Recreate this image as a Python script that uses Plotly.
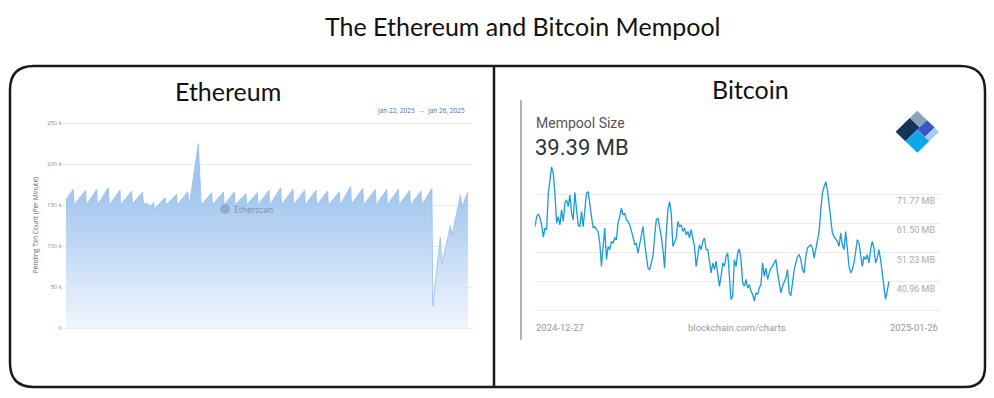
import plotly.graph_objects as go
import pandas as pd

W, H = 994, 398

# ---------------- Ethereum pending transactions (hours since Jan 22, 2025 ; thousands) ----------------
eth_hours = [0, 1.75, 1.9, 4.7, 4.85, 7.33, 7.5, 10.12, 10.3, 12.9, 13.05, 15.7, 15.85, 18.3, 18.45,
             19.0, 19.7, 20.1, 20.6, 20.9, 21.1, 23.7, 23.85, 26.4, 26.55, 29.1, 29.3, 29.6, 31.6,
             32.0, 32.3, 34.8, 34.95, 37.6, 37.75, 40.2, 40.35, 43.0, 43.15, 45.7, 45.85, 48.5, 48.65,
             51.3, 51.45, 54.2, 54.35, 57.0, 57.15, 59.7, 59.85, 62.5, 62.65, 65.3, 65.45, 68.0, 68.15,
             70.9, 71.05, 73.9, 74.05, 76.6, 76.75, 79.4, 79.55, 82.1, 82.25, 84.8, 84.95, 87.4, 87.6,
             89.4, 89.8, 91.8, 92.2, 94.2, 94.6, 96.0]
eth_pending_k = [157, 169, 150, 168, 150, 169, 150, 171, 150, 168, 150, 167, 151, 166, 152,
                 152, 151, 148, 151, 153, 145, 159, 150, 163, 150, 166, 153, 155, 225,
                 168, 150, 165, 150, 166, 150, 166, 150, 164, 150, 165, 150, 168, 150,
                 171, 150, 169, 150, 168, 150, 168, 150, 167, 150, 166, 150, 173, 151,
                 170, 150, 169, 150, 169, 150, 169, 150, 168, 150, 167, 150, 170, 27,
                 111, 79, 125, 113, 162, 148, 166]
eth_tick_vals = [0, 50, 100, 150, 200, 250]
eth_tick_text = ["0", "50 k", "100 k", "150 k", "200 k", "250 k"]

# ---------------- Bitcoin mempool size (MB), 2024-12-27 .. 2025-01-26 ----------------
btc_mempool_mb = [
    60.3, 63.8, 64.7, 63.3, 60.9, 56.6, 59.8, 59.2, 72.0, 76.7, 81.3, 79.0, 72.0, 61.5, 63.8, 60.9,
    66.2, 62.1, 68.5, 69.7, 67.3, 71.4, 65.0, 62.7, 72.4, 66.2, 60.9, 60.3, 65.6, 60.3, 67.3, 72.0,
    72.6, 67.3, 63.8, 59.8, 60.3, 59.2, 58.6, 54.5, 46.3, 53.3, 59.8, 48.7, 53.3, 52.2, 55.1, 54.5,
    56.3, 55.7, 61.5, 63.8, 66.8, 64.4, 65.0, 62.7, 62.1, 60.9, 59.2, 56.8, 53.9, 54.5, 51.0, 54.5,
    56.8, 60.3, 54.5, 49.8, 45.7, 45.2, 47.5, 49.8, 56.8, 62.7, 63.3, 60.3, 56.8, 52.2, 45.7, 58.0,
    66.2, 69.1, 65.0, 53.3, 55.1, 56.3, 62.1, 60.3, 60.9, 58.6, 59.8, 57.4, 58.6, 56.3, 59.2, 55.7,
    53.3, 46.3, 49.8, 53.9, 52.2, 55.1, 56.3, 52.2,
    52.2, 48.7, 44.0, 47.5, 45.2, 48.1, 42.8, 39.3, 42.8, 47.5, 46.3, 49.8, 51.0, 40.5, 34.7, 35.9,
    48.7, 46.3, 51.0, 52.4, 48.7, 40.5, 39.3, 41.7, 38.7, 39.9, 37.6, 36.4, 34.1, 37.0, 36.4, 38.7,
    39.9, 47.5, 42.8, 45.7, 41.7, 44.0, 45.7, 46.3, 47.5, 48.7, 44.0, 40.5, 37.0, 39.3, 41.0, 42.2,
    45.2, 37.0, 35.9, 41.7, 45.2, 47.5, 49.8, 50.4, 48.7, 45.2, 44.0, 49.8, 52.8, 53.4, 53.9, 52.8,
    49.3, 52.2, 55.7, 58.6, 66.2, 72.0, 74.3, 76.1, 73.2, 68.5, 62.7, 58.0, 56.8, 55.7, 55.1, 53.3,
    58.0, 53.9, 52.2, 58.6, 52.2, 46.3, 44.0, 45.2, 47.5, 52.2, 55.7, 54.5, 51.0, 46.3, 49.8, 48.7,
    50.4, 47.5, 52.2, 55.1, 52.8, 47.5, 49.3, 52.2, 48.7, 44.0, 39.3, 34.7, 37.6, 41.0]
btc_dates = pd.date_range("2024-12-27", "2025-01-26", periods=len(btc_mempool_mb))
btc_tick_vals = [30.69, 40.96, 51.23, 61.50, 71.77]
btc_tick_text = ["", "40.96 MB", "51.23 MB", "61.50 MB", "71.77 MB"]


def px(x):
    return x / W


def py(y):
    return 1 - y / H


def P(x, y):
    return f"{px(x):.5f},{py(y):.5f}"


fig = go.Figure()

# Ethereum area with vertical gradient
fig.add_trace(go.Scatter(
    x=eth_hours, y=eth_pending_k, mode="lines", fill="tozeroy",
    line=dict(color="rgb(150,190,236)", width=0.8),
    fillgradient=dict(type="vertical", start=0, stop=170,
                      colorscale=[[0, "rgb(240,246,253)"], [0.55, "rgb(196,218,245)"],
                                  [1, "rgb(160,197,238)"]]),
    xaxis="x", yaxis="y", hoverinfo="skip"))

# Bitcoin line
fig.add_trace(go.Scatter(
    x=btc_dates, y=btc_mempool_mb, mode="lines",
    line=dict(color="rgb(24,155,215)", width=1.3),
    xaxis="x2", yaxis="y2", hoverinfo="skip"))

shapes = []
# Rounded outer frame
r_tl, r_tr, r_br, r_bl = 24, 25, 20, 24
L, R, T, B = 10, 985, 66, 387
frame = (f"M {P(L + r_tl, T)} L {P(R - r_tr, T)} Q {P(R, T)} {P(R, T + r_tr)} "
         f"L {P(R, B - r_br)} Q {P(R, B)} {P(R - r_br, B)} L {P(L + r_bl, B)} "
         f"Q {P(L, B)} {P(L, B - r_bl)} L {P(L, T + r_tl)} Q {P(L, T)} {P(L + r_tl, T)} Z")
shapes.append(dict(type="path", path=frame, xref="paper", yref="paper",
                   line=dict(color="#1a1a1a", width=2.5), layer="above"))
# Divider
shapes.append(dict(type="line", xref="paper", yref="paper", x0=px(494), x1=px(494),
                   y0=py(66), y1=py(387), line=dict(color="#1a1a1a", width=2.5)))
# Bitcoin screenshot left edge
shapes.append(dict(type="line", xref="paper", yref="paper", x0=px(521), x1=px(521),
                   y0=py(100), y1=py(340), line=dict(color="#666", width=1)))
# Etherscan logo circle
shapes.append(dict(type="circle", xref="paper", yref="paper", x0=px(220), x1=px(230),
                   y0=py(214), y1=py(204), fillcolor="rgba(110,130,160,0.45)",
                   line=dict(width=0)))

# blockchain.com logo (diamond)
top = (917.3, 110.7)
right = (939.0, 131.7)
left = (895.6, 131.7)


def dpt(a, b):
    x = top[0] + a * (right[0] - top[0]) + b * (left[0] - top[0])
    y = top[1] + a * (right[1] - top[1]) + b * (left[1] - top[1])
    return P(x, y)


def quad(a0, a1, b0, b1, color):
    path = f"M {dpt(a0, b0)} L {dpt(a1, b0)} L {dpt(a1, b1)} L {dpt(a0, b1)} Z"
    return dict(type="path", path=path, xref="paper", yref="paper",
                fillcolor=color, line=dict(width=0))


shapes += [quad(0, 0.45, 0, 0.35, "#8ba3b8"),
           quad(0, 0.45, 0.35, 1, "#15335a"),
           quad(0.45, 0.8, 0, 0.45, "#3a55c9"),
           quad(0.8, 1, 0, 0.45, "#a8cbe6"),
           quad(0.45, 1, 0.45, 1, "#10a7e5")]


def ann(text, x, y, size, color, family, xanchor="center"):
    return dict(text=text, x=px(x), y=py(y), xref="paper", yref="paper", xanchor=xanchor,
                yanchor="middle", showarrow=False, font=dict(family=family, size=size, color=color))


annotations = [
    ann("The Ethereum and Bitcoin Mempool", 522, 26, 25, "#111", "Lato"),
    ann("Ethereum", 228, 91, 25, "#111", "Lato"),
    ann("Bitcoin", 750, 89, 25, "#111", "Lato"),
    ann("Jan 22, 2025  →  Jan 26, 2025", 467, 111, 6.5, "#4d6fa8", "Open Sans", "right"),
    ann("Etherscan", 232, 209, 8.5, "rgba(100,120,150,0.75)", "Open Sans", "left"),
    ann("Mempool Size", 534, 123, 14, "#555", "Roboto", "left"),
    ann("39.39 MB", 533, 147, 22, "#333", "Roboto", "left"),
    ann("2024-12-27", 534, 327, 9.5, "#999", "Roboto", "left"),
    ann("blockchain.com/charts", 737, 327, 9.5, "#999", "Roboto"),
    ann("2025-01-26", 940, 327, 9.5, "#999", "Roboto", "right"),
]

fig.update_layout(
    width=W, height=H, margin=dict(l=0, r=0, t=0, b=0),
    paper_bgcolor="white", plot_bgcolor="rgba(0,0,0,0)", showlegend=False,
    shapes=shapes, annotations=annotations,
    xaxis=dict(domain=[px(63), px(471.7)], range=[-0.72, 96.9], visible=False, fixedrange=True),
    yaxis=dict(domain=[py(329.64), py(120.54)], range=[-2, 253], anchor="x",
               tickvals=eth_tick_vals, ticktext=eth_tick_text,
               tickfont=dict(family="Open Sans", size=6, color="#8a8a8a"),
               showgrid=True, gridcolor="#e9edf3", gridwidth=1, zeroline=False,
               showline=False, ticks="", automargin=False,
               title=dict(text="Pending Txn Count (Per Minute)", standoff=7,
                          font=dict(family="Open Sans", size=6.5, color="#666"))),
    xaxis2=dict(domain=[px(535), px(940)], type="date",
                range=["2024-12-27", "2025-01-30 08:00"], visible=False),
    yaxis2=dict(domain=[py(312.2), py(163.5)], range=[30.19, 82.5], anchor="x2", side="right",
                tickvals=btc_tick_vals, ticktext=btc_tick_text,
                ticklabelposition="inside", ticklabelshift=7, ticklabelstandoff=2,
                tickfont=dict(family="Roboto", size=9, color="#aaa"),
                showgrid=True, gridcolor="#ebebeb", gridwidth=1, zeroline=False,
                showline=False, ticks="", automargin=False),
)

fig.write_html("out.html")
